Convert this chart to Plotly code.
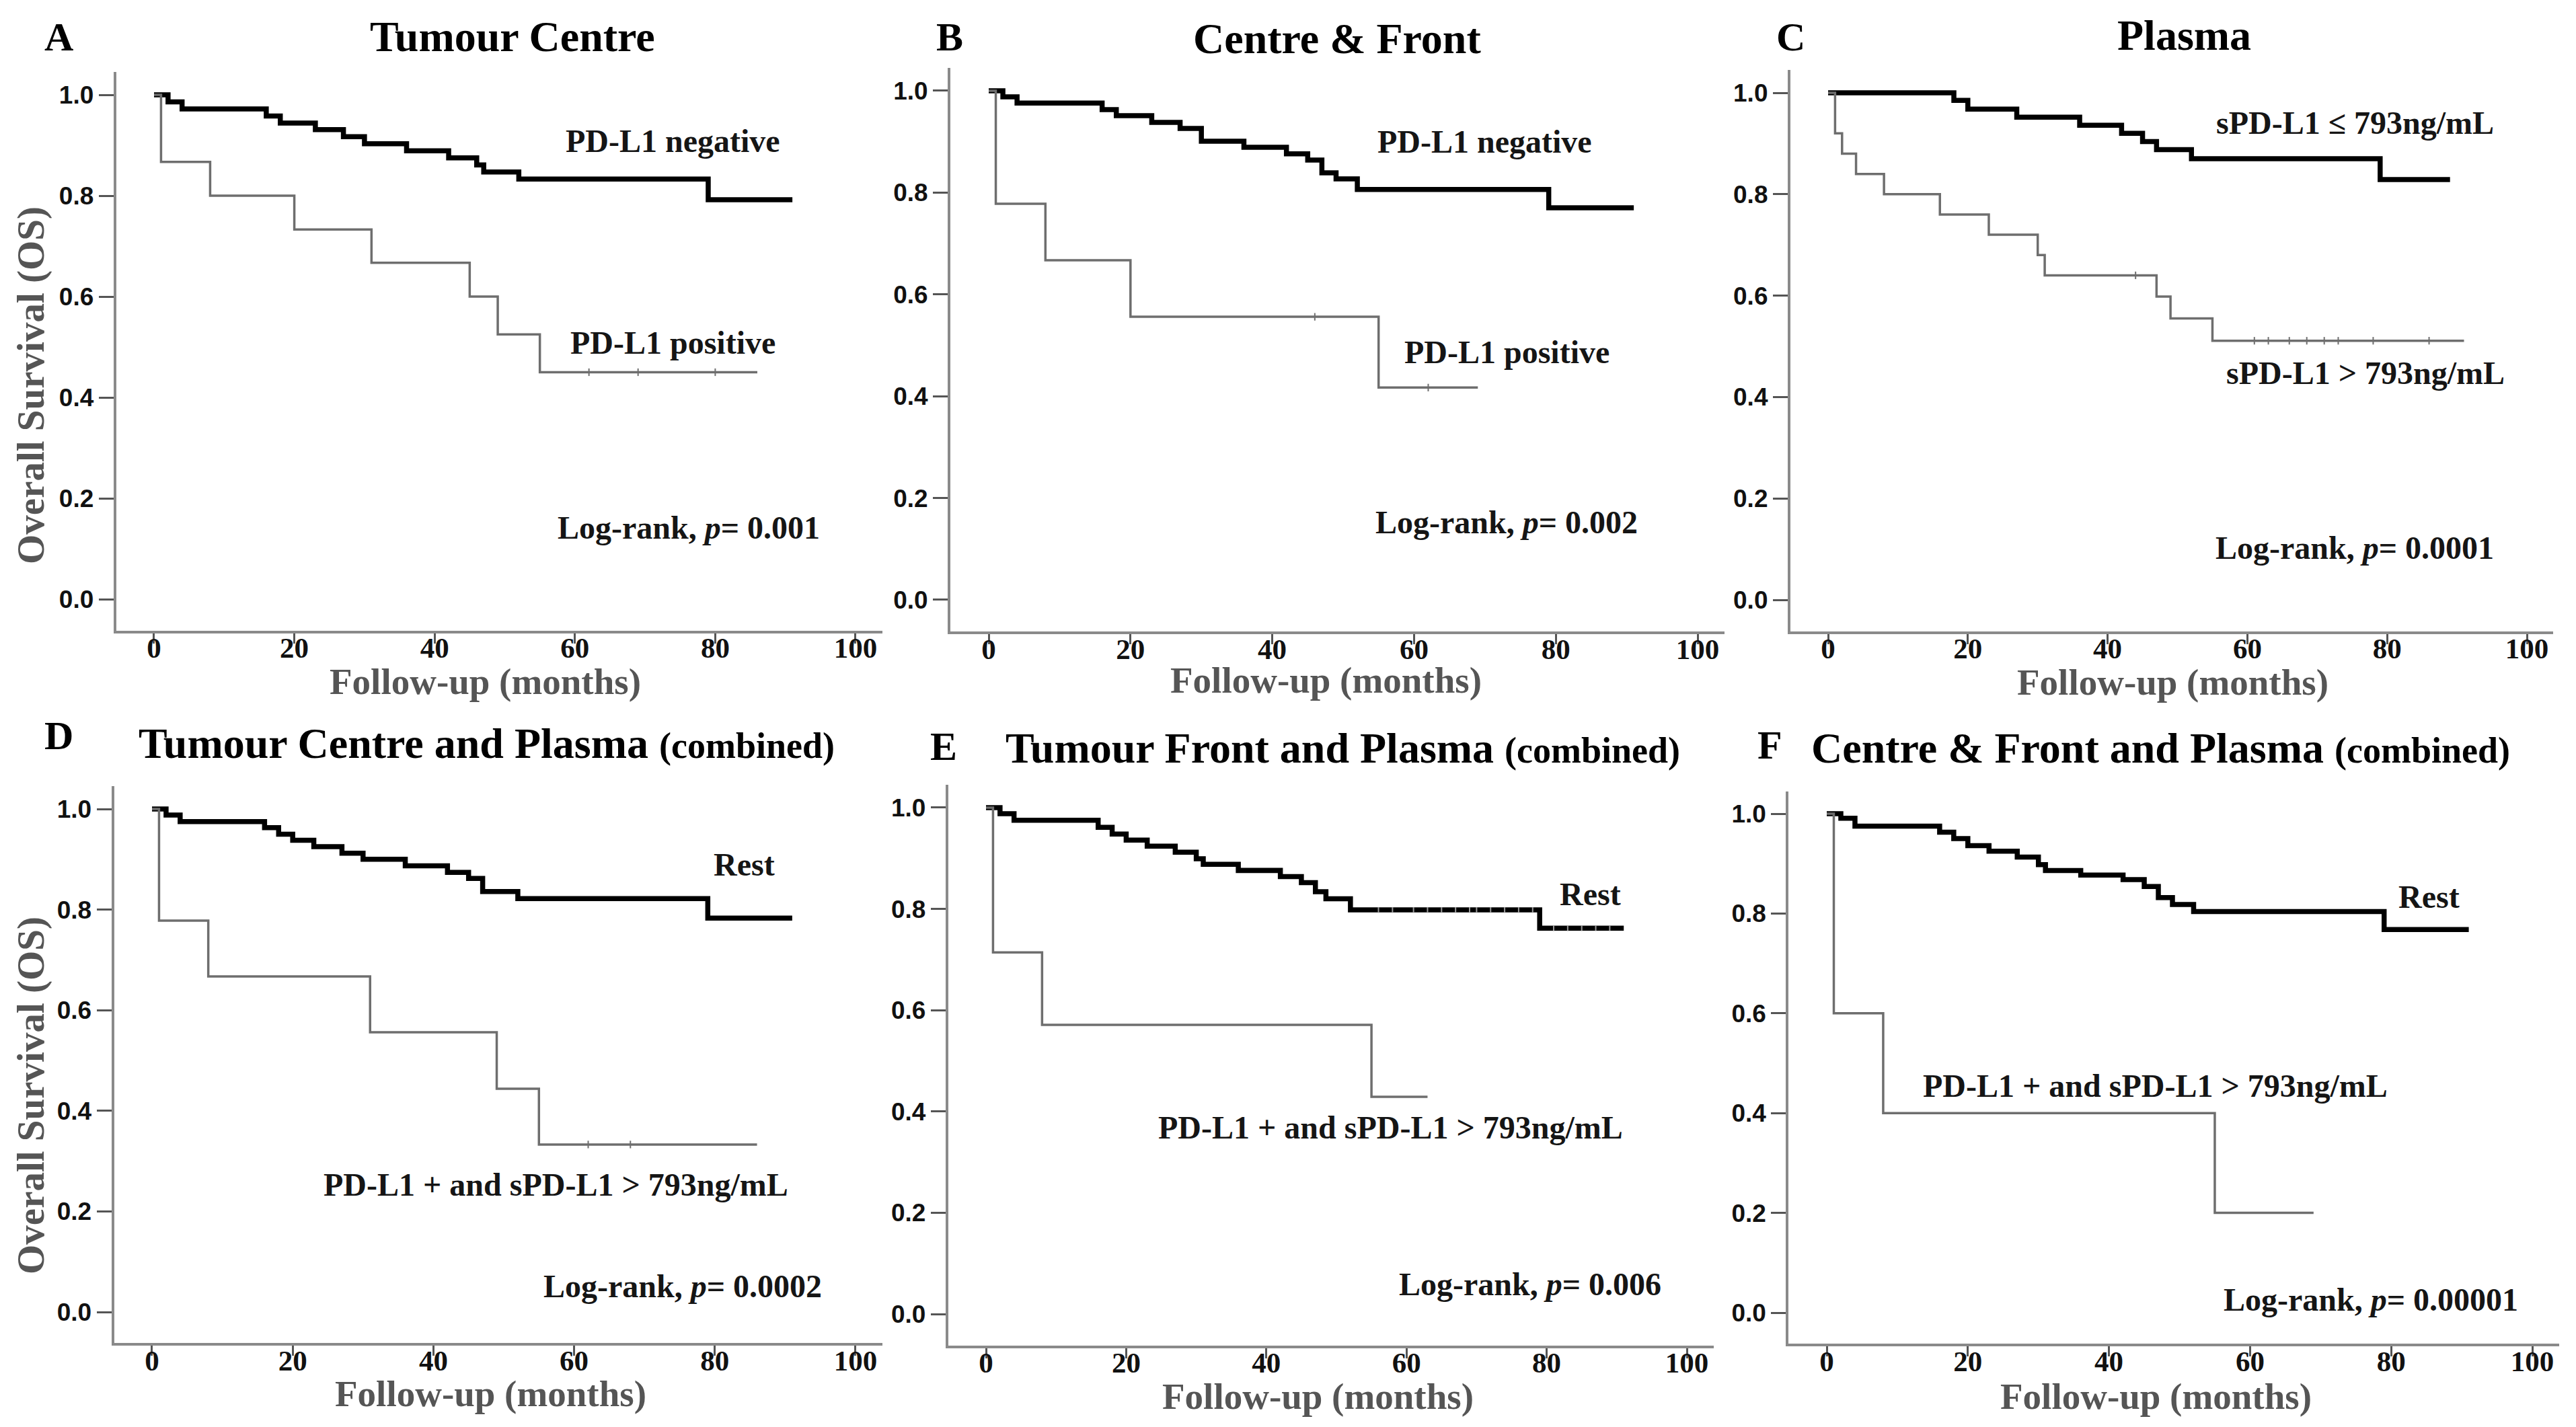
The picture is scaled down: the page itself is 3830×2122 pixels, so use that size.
import plotly.graph_objects as go

W, H = 3830, 2122

# ---------------- data (months, survival) ----------------
# last point of each curve = end of follow-up (same survival as previous)
a_neg_t = [0, 2, 4, 16, 18, 23, 27, 30, 36, 42, 46, 47, 52, 79, 91]
a_neg_s = [1.0, 0.986, 0.972, 0.958, 0.944, 0.931, 0.917, 0.903, 0.889, 0.875, 0.861, 0.847, 0.833, 0.792, 0.792]
a_pos_t = [0, 1, 8, 20, 31, 45, 49, 55, 86]
a_pos_s = [1.0, 0.867, 0.800, 0.733, 0.667, 0.600, 0.525, 0.450, 0.450]
a_pos_cens_t = [62, 69, 80]
a_pos_cens_s = [0.450, 0.450, 0.450]

b_neg_t = [0, 2, 4, 16, 18, 23, 27, 30, 36, 42, 45, 47, 49, 52, 79, 91]
b_neg_s = [1.0, 0.988, 0.976, 0.963, 0.951, 0.938, 0.926, 0.901, 0.889, 0.876, 0.864, 0.839, 0.827, 0.806, 0.770, 0.770]
b_pos_t = [0, 1, 8, 20, 55, 69]
b_pos_s = [1.0, 0.778, 0.667, 0.556, 0.417, 0.417]
b_pos_cens_t = [46, 62]
b_pos_cens_s = [0.556, 0.417]

c_low_t = [0, 18, 20, 27, 36, 42, 45, 47, 52, 79, 89]
c_low_s = [1.0, 0.985, 0.968, 0.952, 0.936, 0.920, 0.904, 0.888, 0.870, 0.829, 0.829]
c_high_t = [0, 1, 2, 4, 8, 16, 23, 30, 31, 47, 49, 55, 91]
c_high_s = [1.0, 0.92, 0.88, 0.84, 0.80, 0.76, 0.72, 0.68, 0.64, 0.598, 0.555, 0.511, 0.511]
c_high_cens_t = [44, 61, 63, 66, 68.5, 71, 73, 78, 86]
c_high_cens_s = [0.64, 0.511, 0.511, 0.511, 0.511, 0.511, 0.511, 0.511, 0.511]

d_rest_t = [0, 2, 4, 16, 18, 20, 23, 27, 30, 36, 42, 45, 47, 52, 79, 91]
d_rest_s = [1.0, 0.988, 0.975, 0.963, 0.950, 0.938, 0.925, 0.912, 0.900, 0.887, 0.874, 0.862, 0.836, 0.822, 0.783, 0.783]
d_pos_t = [0, 1, 8, 31, 49, 55, 86]
d_pos_s = [1.0, 0.778, 0.667, 0.556, 0.444, 0.333, 0.333]
d_pos_cens_t = [62, 68]
d_pos_cens_s = [0.333, 0.333]

e_rest_t = [0, 2, 4, 16, 18, 20, 23, 27, 30, 31, 36, 42, 45, 47, 48.5, 52, 79, 91]
e_rest_s = [1.0, 0.988, 0.975, 0.961, 0.948, 0.936, 0.924, 0.912, 0.899, 0.888, 0.876, 0.864, 0.852, 0.834, 0.820, 0.798, 0.762, 0.762]
e_rest_cens_t = [56, 58, 61, 63, 65, 67, 69, 70, 72, 74, 76, 78, 81, 83, 85, 87, 89]
e_rest_cens_s = [0.798] * 12 + [0.762] * 5
e_pos_t = [0, 1, 8, 55, 63]
e_pos_s = [1.0, 0.714, 0.571, 0.429, 0.429]

f_rest_t = [0, 2, 4, 16, 18, 20, 23, 27, 30, 31, 36, 42, 45, 47, 49, 52, 79, 91]
f_rest_s = [1.0, 0.991, 0.975, 0.963, 0.950, 0.936, 0.925, 0.913, 0.898, 0.886, 0.877, 0.868, 0.854, 0.832, 0.818, 0.804, 0.768, 0.768]
f_pos_t = [0, 1, 8, 55, 69]
f_pos_s = [1.0, 0.6, 0.4, 0.2, 0.2]

x_ticks = [0, 20, 40, 60, 80, 100]
y_ticks = [0.0, 0.2, 0.4, 0.6, 0.8, 1.0]
y_tick_labels = ["0.0", "0.2", "0.4", "0.6", "0.8", "1.0"]

titles = ["Tumour Centre", "Centre &amp; Front", "Plasma",
          "Tumour Centre and Plasma", "Tumour Front and Plasma", "Centre &amp; Front and Plasma"]
letters = ["A", "B", "C", "D", "E", "F"]

# ---------------- layout geometry (pixels in the 3830x2122 image) ----------------
# (px of x=0, px of x=100, px of y=1.0, px of y=0.0)
boxes = [
    (221, 1264, 133, 883),
    (1462, 2516, 127, 884),
    (2710, 3749, 130, 884),
    (218, 1264, 1195, 1943),
    (1458, 2500, 1193, 1946),
    (2708, 3757, 1202, 1944),
]
XR = [-5.4, 103.8]
YR = [-0.062, 1.045]

SERIF = "Liberation Serif, Times New Roman, serif"
SANS = "Liberation Sans Narrow, Liberation Sans, Arial, sans-serif"
BLACK_W = 7.5
GRAY_C = "#6e6e6e"
GRAY_W = 3.5

fig = go.Figure()

curves = [
    [(a_neg_t, a_neg_s, "k"), (a_pos_t, a_pos_s, "g")],
    [(b_neg_t, b_neg_s, "k"), (b_pos_t, b_pos_s, "g")],
    [(c_low_t, c_low_s, "k"), (c_high_t, c_high_s, "g")],
    [(d_rest_t, d_rest_s, "k"), (d_pos_t, d_pos_s, "g")],
    [(e_rest_t, e_rest_s, "k"), (e_pos_t, e_pos_s, "g")],
    [(f_rest_t, f_rest_s, "k"), (f_pos_t, f_pos_s, "g")],
]
censors = [
    [(a_pos_cens_t, a_pos_cens_s, "g")],
    [(b_pos_cens_t, b_pos_cens_s, "g")],
    [(c_high_cens_t, c_high_cens_s, "g")],
    [(d_pos_cens_t, d_pos_cens_s, "g")],
    [(e_rest_cens_t, e_rest_cens_s, "k")],
    [],
]

for i, (t0, t100, y1, y0) in enumerate(boxes):
    ppm = (t100 - t0) / 100.0
    ppu = (y0 - y1) / 1.0
    left = t0 + XR[0] * ppm
    right = t0 + XR[1] * ppm
    top = y0 - YR[1] * ppu
    bottom = y0 - YR[0] * ppu
    sfx = "" if i == 0 else str(i + 1)
    fig.layout["xaxis" + sfx] = dict(
        domain=[left / W, right / W], range=XR, anchor="y" + sfx,
        showgrid=False, zeroline=False, showline=True, linecolor="#8a8a8a", linewidth=4,
        ticks="outside", ticklen=15, tickwidth=3, tickcolor="#555555",
        ticklabelstandoff=-30,
        tickvals=x_ticks, tickfont=dict(family=SERIF, size=43, color="#111111", weight="bold"),
    )
    fig.layout["yaxis" + sfx] = dict(
        domain=[1 - bottom / H, 1 - top / H], range=YR, anchor="x" + sfx,
        showgrid=False, zeroline=False, showline=True, linecolor="#8a8a8a", linewidth=4,
        ticks="outside", ticklen=22, tickwidth=3, tickcolor="#555555",
        tickvals=y_ticks, ticktext=y_tick_labels,
        tickfont=dict(family=SANS, size=37, color="#111111", weight="bold"),
    )
    for (tt, ss, kind) in curves[i]:
        fig.add_trace(go.Scatter(
            x=tt, y=ss, mode="lines", line_shape="hv",
            line=dict(color="#000000" if kind == "k" else GRAY_C,
                      width=BLACK_W if kind == "k" else GRAY_W),
            xaxis="x" + sfx, yaxis="y" + sfx, showlegend=False, hoverinfo="skip"))
    for (tt, ss, kind) in censors[i]:
        fig.add_trace(go.Scatter(
            x=tt, y=ss, mode="markers",
            marker=dict(symbol="line-ns", size=6 if kind == "k" else 8,
                        line=dict(color="#9a9a9a" if kind == "k" else GRAY_C, width=2)),
            xaxis="x" + sfx, yaxis="y" + sfx, showlegend=False, hoverinfo="skip"))

ann = []

def paper(px, py):
    return px / W, 1 - py / H

# titles
title_pos = [(754, 47), (1980, 50), (3239, 45), (715, 1097), (1988, 1104), (3204, 1104)]
for i, (tx, ty) in enumerate(title_pos):
    txt = "<b>" + titles[i] + "</b>"
    if i >= 3:
        txt += " <span style='font-size:54px'><b>(combined)</b></span>"
    x, y = paper(tx, ty)
    ann.append(dict(x=x, y=y, xref="paper", yref="paper", text=txt, showarrow=False,
                    xanchor="center", yanchor="middle",
                    font=dict(family=SERIF, size=64, color="#000000")))

letter_pos = [(79, 47), (1404, 47), (2654, 47), (79, 1086), (1395, 1102), (2623, 1100)]
for i, (lx, ly) in enumerate(letter_pos):
    x, y = paper(lx, ly)
    ann.append(dict(x=x, y=y, xref="paper", yref="paper", text="<b>" + letters[i] + "</b>",
                    showarrow=False, xanchor="center", yanchor="middle",
                    font=dict(family=SERIF, size=60, color="#000000")))

# axis titles
xt_pos = [(713, 1005), (1963, 1003), (3222, 1006), (721, 2064), (1951, 2068), (3197, 2068)]
for (px, py) in xt_pos:
    x, y = paper(px, py)
    ann.append(dict(x=x, y=y, xref="paper", yref="paper", text="<b>Follow-up (months)</b>",
                    showarrow=False, xanchor="center", yanchor="middle",
                    font=dict(family=SERIF, size=55, color="#555555")))
for (px, py) in [(38, 565), (38, 1621)]:
    x, y = paper(px, py)
    ann.append(dict(x=x, y=y, xref="paper", yref="paper", text="<b>Overall Survival (OS)</b>",
                    showarrow=False, xanchor="center", yanchor="middle", textangle=-90,
                    font=dict(family=SERIF, size=57, color="#555555")))

# in-plot labels (data coordinates)
labels = [
    [("PD-L1 negative", 74, 0.909), ("PD-L1 positive", 74, 0.509), ("Log-rank, <i>p</i>= 0.001", 76.2, 0.142)],
    [("PD-L1 negative", 70, 0.900), ("PD-L1 positive", 73.1, 0.487), ("Log-rank, <i>p</i>= 0.002", 73.1, 0.152)],
    [("sPD-L1 \u2264 793ng/mL", 75.4, 0.941), ("sPD-L1 &gt; 793ng/mL", 76.9, 0.448), ("Log-rank, <i>p</i>= 0.0001", 75.4, 0.103)],
    [("Rest", 84.2, 0.890), ("PD-L1 + and sPD-L1 &gt; 793ng/mL", 57.4, 0.254), ("Log-rank, <i>p</i>= 0.0002", 75.4, 0.051)],
    [("Rest", 86.2, 0.829), ("PD-L1 + and sPD-L1 &gt; 793ng/mL", 57.7, 0.369), ("Log-rank, <i>p</i>= 0.006", 77.6, 0.059)],
    [("Rest", 85.4, 0.834), ("PD-L1 + and sPD-L1 &gt; 793ng/mL", 46.6, 0.455), ("Log-rank, <i>p</i>= 0.00001", 77.1, 0.026)],
]
for i, lst in enumerate(labels):
    sfx = "" if i == 0 else str(i + 1)
    for (txt, lx, ly) in lst:
        ann.append(dict(x=lx, y=ly, xref="x" + sfx, yref="y" + sfx, text=txt, showarrow=False,
                        xanchor="center", yanchor="middle",
                        font=dict(family=SERIF, size=48, color="#151515", weight="bold")))

fig.update_layout(
    width=W, height=H, autosize=False,
    margin=dict(l=0, r=0, t=0, b=0),
    paper_bgcolor="white", plot_bgcolor="white",
    annotations=ann, showlegend=False,
)

fig.write_html("out.html", config={"displayModeBar": False})
